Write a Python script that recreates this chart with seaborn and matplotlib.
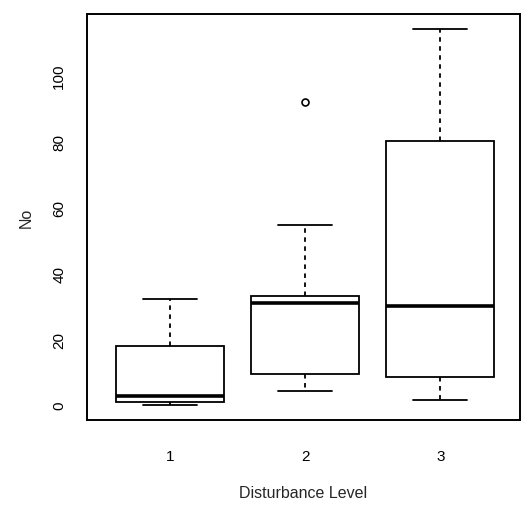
import matplotlib
matplotlib.use("Agg")
import matplotlib.pyplot as plt
import seaborn as sns
import pandas as pd

# Raw sample values per disturbance level (chosen to reproduce the box statistics)
level_1 = [0, 1, 1, 2, 2.7, 10, 18, 25, 32]
level_2 = [4.3, 9.4, 9.4, 20, 31, 32, 33, 54.7, 92]
level_3 = [1.5, 5, 8.5, 20, 30, 60, 80, 100, 114]
levels = ["1", "2", "3"]
y_ticks = [0, 20, 40, 60, 80, 100]

df = pd.DataFrame({
    "Disturbance Level": [levels[0]] * len(level_1) + [levels[1]] * len(level_2) + [levels[2]] * len(level_3),
    "No": level_1 + level_2 + level_3,
})

sns.set_style("white")
plt.rcParams["font.family"] = ["Liberation Sans", "DejaVu Sans"]

fig = plt.figure(figsize=(5.22, 5.10), dpi=100)
ax = fig.add_axes([0.1667, 0.1745, 0.8295, 0.796])

sns.boxplot(
    data=df, x="Disturbance Level", y="No", order=levels, ax=ax,
    width=0.8, whis=1.5, color="white", linecolor="black", linewidth=1.3,
    medianprops=dict(linewidth=2.6, color="black"),
    whiskerprops=dict(linestyle=(0, (2.5, 2.5)), linewidth=1.3, color="black"),
    capprops=dict(linewidth=1.3, color="black"),
    flierprops=dict(marker="o", markersize=5, markerfacecolor="none",
                    markeredgecolor="black", markeredgewidth=1.2),
)

all_vals = level_1 + level_2 + level_3
ymin, ymax = min(all_vals), max(all_vals)
pad = 0.04 * (ymax - ymin)
ax.set_ylim(ymin - pad, ymax + pad)
ax.set_xlim(-0.615, 2.59)
ax.set_yticks(y_ticks)
ax.set_yticklabels([str(t) for t in y_ticks], rotation=90, va="center")
ax.tick_params(axis="both", direction="out", length=7, width=1.2, colors="black",
               labelsize=11)
ax.tick_params(axis="y", pad=8)
ax.tick_params(axis="x", pad=14)
for s in ax.spines.values():
    s.set_visible(True)
    s.set_color("black")
    s.set_linewidth(1.4)
ax.set_xlabel("Disturbance Level", fontsize=11.5, labelpad=16)
ax.set_ylabel("No", fontsize=11.5, labelpad=13)

fig.savefig("out.png", dpi=100)
